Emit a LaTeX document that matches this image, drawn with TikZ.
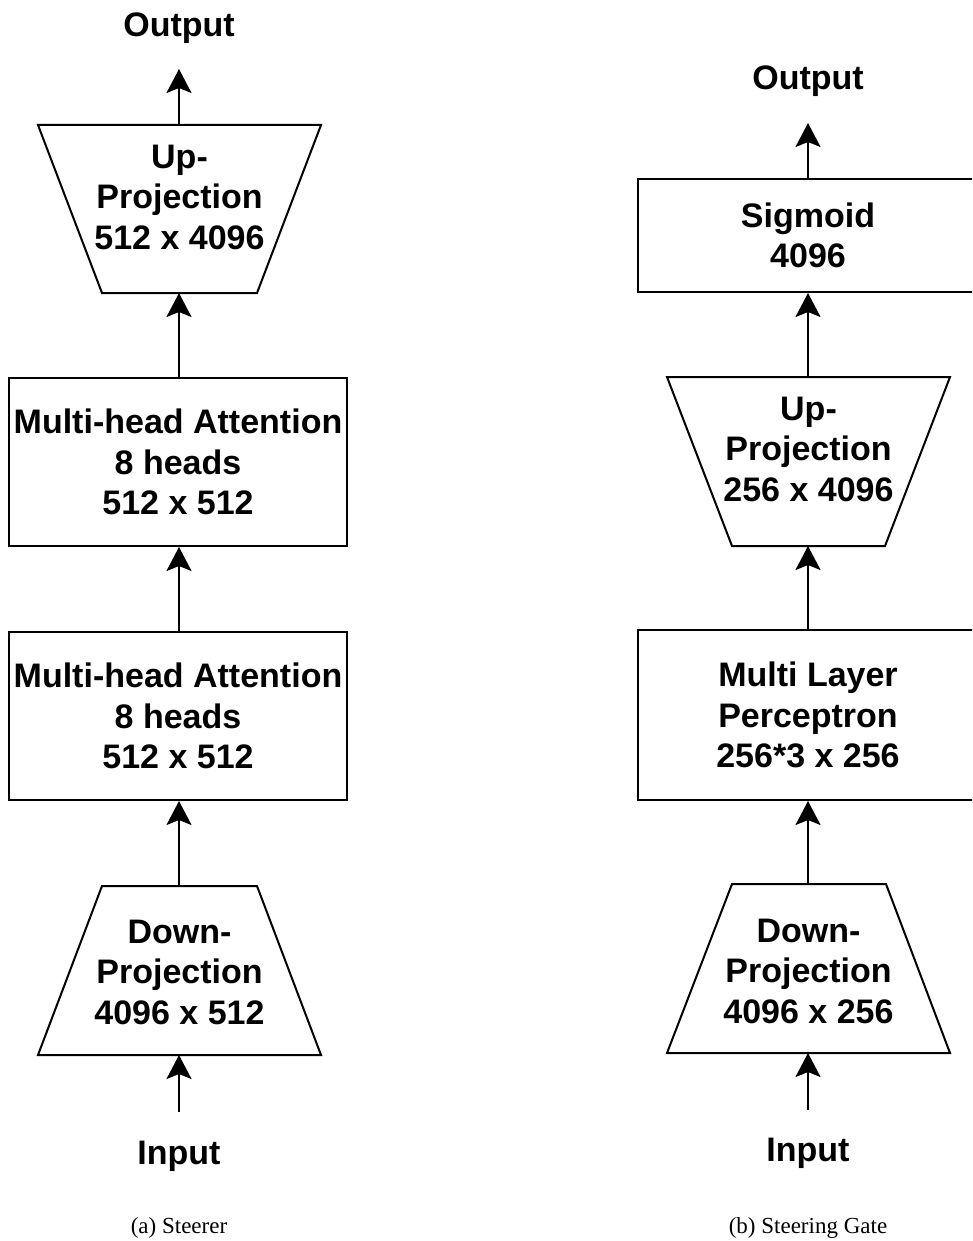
\documentclass[tikz,border=0pt]{standalone}
\usepackage{fontspec}
\setmainfont{Liberation Serif}
\setsansfont{Liberation Sans}
\usetikzlibrary{arrows.meta}
\begin{document}
\begin{tikzpicture}[x=1pt,y=-1pt,
  lbl/.style={font=\sffamily\bfseries\fontsize{34}{40.5}\selectfont, align=center, inner sep=0pt},
  blk/.style={draw, line width=2pt, inner sep=0pt, minimum width=338pt},
  trap/.style={draw, line width=2pt, line join=miter},
  arr/.style={line width=2pt, -{Stealth[length=24pt,width=25pt,inset=5pt]}},
  captxt/.style={font=\rmfamily\fontsize{23}{27}\selectfont, inner sep=0pt}]
\path[use as bounding box] (0,0) rectangle (972,1241);
\clip (0,0) rectangle (972,1241);

% ---------------- (a) Steerer ----------------
\node[lbl] (out1) at (179,28) {Output};
\coordinate (out1tip) at (179,69);

\draw[trap] (38,125) -- (321,125) -- (257,293) -- (102,293) -- cycle;
\coordinate (up1t) at (179,125);
\coordinate (up1b) at (179,293);
\node[lbl] (up1) at (179.5,197) {Up-\\Projection\\512 x 4096};

\node[blk, lbl, minimum height=168pt] (mha1) at (178,462) {Multi-head Attention\\8 heads\\512 x 512};
\node[blk, lbl, minimum height=168pt] (mha2) at (178,716) {Multi-head Attention\\8 heads\\512 x 512};

\draw[trap] (102,886) -- (257,886) -- (321,1055) -- (38,1055) -- cycle;
\coordinate (dn1t) at (179,886);
\coordinate (dn1b) at (179,1055);
\node[lbl] (dn1) at (179.5,972) {Down-\\Projection\\4096 x 512};

\coordinate (in1s) at (179,1112);
\node[lbl] (in1) at (179,1156) {Input};

\draw[arr] (up1t) -- (out1tip);
\draw[arr] (mha1.north -| up1b) -- (up1b);
\draw[arr] (mha2.north -| up1b) -- (mha1.south -| up1b);
\draw[arr] (dn1t) -- (mha2.south -| dn1t);
\draw[arr] (in1s) -- (dn1b);

\node[captxt] (capa) at (179,1228) {(a) Steerer};

% ---------------- (b) Steering Gate ----------------
\node[lbl] (out2) at (808,81) {Output};
\coordinate (out2tip) at (808,123);

\node[blk, lbl, minimum width=340pt, minimum height=113pt] (sig) at (808,235.5) {Sigmoid\\4096};

\draw[trap] (667,377) -- (950,377) -- (885,546) -- (732,546) -- cycle;
\coordinate (up2t) at (808,377);
\coordinate (up2b) at (808,546);
\node[lbl] (up2) at (808.5,449) {Up-\\Projection\\256 x 4096};

\node[blk, lbl, minimum width=340pt, minimum height=170pt] (mlp) at (808,715) {Multi Layer\\Perceptron\\256*3 x 256};

\draw[trap] (732,884) -- (886,884) -- (950,1053) -- (667,1053) -- cycle;
\coordinate (dn2t) at (808,884);
\coordinate (dn2b) at (808,1053);
\node[lbl] (dn2) at (808.5,971) {Down-\\Projection\\4096 x 256};

\coordinate (in2s) at (808,1110);
\node[lbl] (in2) at (808,1153) {Input};

\draw[arr] (sig.north) -- (out2tip);
\draw[arr] (up2t) -- (sig.south);
\draw[arr] (mlp.north) -- (up2b);
\draw[arr] (dn2t) -- (mlp.south);
\draw[arr] (in2s) -- (dn2b);

\node[captxt] (capb) at (808,1228) {(b) Steering Gate};
\end{tikzpicture}
\end{document}
